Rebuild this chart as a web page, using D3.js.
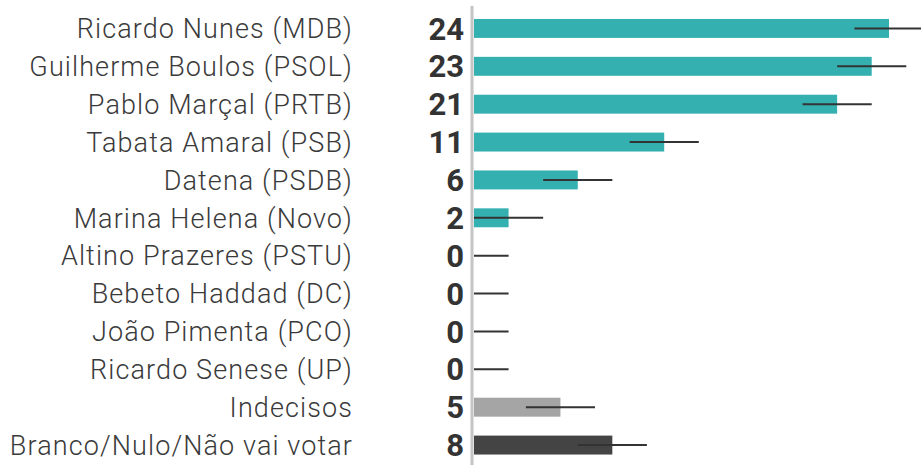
<!DOCTYPE html>
<html>
<head>
<meta charset="utf-8">
<script src="https://cdn.jsdelivr.net/npm/d3@7"></script>
<style>
  body { margin: 0; background: #fff; }
  svg { display: block; }
</style>
</head>
<body>
<svg class="chart"></svg>
<script>
// poll values (%)
var candidates = [
  'Ricardo Nunes (MDB)',
  'Guilherme Boulos (PSOL)',
  'Pablo Marçal (PRTB)',
  'Tabata Amaral (PSB)',
  'Datena (PSDB)',
  'Marina Helena (Novo)',
  'Altino Prazeres (PSTU)',
  'Bebeto Haddad (DC)',
  'João Pimenta (PCO)',
  'Ricardo Senese (UP)',
  'Indecisos',
  'Branco/Nulo/Não vai votar'
];
var values = [24, 23, 21, 11, 6, 2, 0, 0, 0, 0, 5, 8];
var margins = [2, 2, 2, 2, 2, 2, 2, 2, 2, 2, 2, 2];
var kinds = ['cand', 'cand', 'cand', 'cand', 'cand', 'cand', 'cand', 'cand', 'cand', 'cand', 'undecided', 'blank'];

var width = 921;
var height = 465;

var data = candidates.map(function(name, i) {
  return { name: name, value: values[i], margin: margins[i], kind: kinds[i] };
});

var svg = d3.select('.chart')
    .attr('width', width)
    .attr('height', height);

var x = d3.scaleLinear()
    .domain([0, 24])
    .range([474, 889]);

var y = d3.scaleBand()
    .domain(candidates)
    .range([9.5, 464])
    .paddingInner(0.5)
    .paddingOuter(0.25);

var color = d3.scaleOrdinal()
    .domain(['cand', 'undecided', 'blank'])
    .range(['#35b0b0', '#a5a5a5', '#444444']);

// bars
svg.append('g')
  .selectAll('rect')
  .data(data)
  .enter().append('rect')
    .attr('x', x(0))
    .attr('y', function(d) { return y(d.name); })
    .attr('width', function(d) { return x(d.value) - x(0); })
    .attr('height', y.bandwidth())
    .attr('fill', function(d) { return color(d.kind); });

// margin of error
svg.append('g')
  .selectAll('line')
  .data(data)
  .enter().append('line')
    .attr('x1', function(d) { return x(Math.max(0, d.value - d.margin)); })
    .attr('x2', function(d) { return x(d.value + d.margin); })
    .attr('y1', function(d) { return y(d.name) + y.bandwidth() / 2; })
    .attr('y2', function(d) { return y(d.name) + y.bandwidth() / 2; })
    .attr('stroke', '#333')
    .attr('stroke-width', 2);

// vertical baseline
svg.append('line')
    .attr('x1', x(0) - 2)
    .attr('x2', x(0) - 2)
    .attr('y1', 6)
    .attr('y2', height)
    .attr('stroke', '#c4c4c4')
    .attr('stroke-width', 3);

// candidate names
svg.append('g')
  .selectAll('text')
  .data(data)
  .enter().append('text')
    .attr('x', 353)
    .attr('y', function(d) { return y(d.name) + y.bandwidth() / 2; })
    .attr('dy', '0.36em')
    .attr('text-anchor', 'end')
    .style('font-family', 'Roboto, sans-serif')
    .style('font-weight', 300)
    .style('font-size', '27px')
    .style('letter-spacing', '1.1px')
    .style('fill', '#3a3a3a')
    .text(function(d) { return d.name; });

// value numbers
svg.append('g')
  .selectAll('text')
  .data(data)
  .enter().append('text')
    .attr('x', 464)
    .attr('y', function(d) { return y(d.name) + y.bandwidth() / 2; })
    .attr('dy', '0.36em')
    .attr('text-anchor', 'end')
    .style('font-family', 'Roboto, sans-serif')
    .style('font-weight', 700)
    .style('font-size', '31px')
    .style('fill', '#333')
    .text(function(d) { return d.value; });
</script>
</body>
</html>
